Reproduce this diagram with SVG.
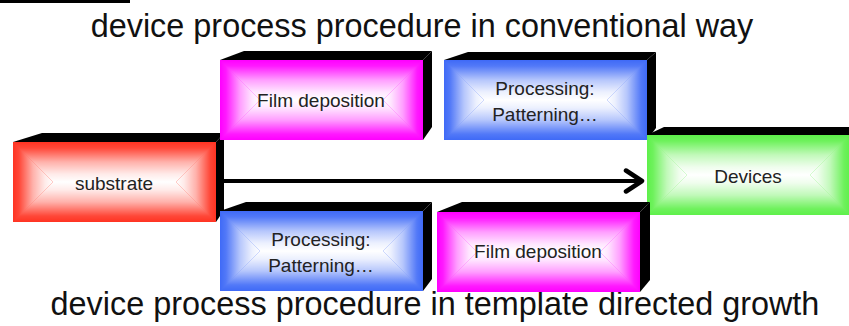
<svg xmlns="http://www.w3.org/2000/svg" width="849" height="326" viewBox="0 0 849 326">
<style>
.title{font-family:"Liberation Sans",Arial,sans-serif;font-size:32.4px;fill:#111;text-anchor:middle}
.lbl{font-family:"Liberation Sans",Arial,sans-serif;font-size:19px;fill:#222;text-anchor:middle}
.side{fill:#000}
.red{fill:#ff3322}
.mag{fill:#ff00ff}
.blue{fill:#3f6af7}
.green{fill:#5ef04a}
.gt{fill:url(#gTop)}
.gb{fill:url(#gBot)}
.gl{fill:url(#gLeft)}
.gr{fill:url(#gRight)}
</style>
<defs>
<linearGradient id="gTop" x1="0" y1="0" x2="0" y2="1"><stop offset="0" stop-color="#fff" stop-opacity="0"/><stop offset="0.15" stop-color="#fff" stop-opacity="0.1"/><stop offset="0.5" stop-color="#fff" stop-opacity="0.62"/><stop offset="0.8" stop-color="#fff" stop-opacity="0.9"/><stop offset="1" stop-color="#fff" stop-opacity="1"/></linearGradient>
<linearGradient id="gBot" x1="0" y1="1" x2="0" y2="0" href="#gTop"/>
<linearGradient id="gLeft" x1="0" y1="0" x2="1" y2="0" href="#gTop"/>
<linearGradient id="gRight" x1="1" y1="0" x2="0" y2="0" href="#gTop"/>
<marker id="chev" viewBox="0 0 22 26" refX="19" refY="13" markerWidth="22" markerHeight="26" markerUnits="userSpaceOnUse" orient="auto">
<path d="M3,2.5 L19,13 L3,23.5" fill="none" stroke="#000" stroke-width="4.5" stroke-linecap="round" stroke-linejoin="round"/>
</marker>
</defs>
<rect width="849" height="326" fill="#fff"/>
<rect x="0" y="0" width="130" height="3" fill="#000"/>
<text class="title" x="422" y="37">device process procedure in conventional way</text>
<text class="title" x="435" y="315">device process procedure in template directed growth</text>

<g id="substrate">
<polygon class="side" points="13,142 42,133 224,133 216,142"/>
<polygon class="side" points="216,142 224,133 224,210 216,222"/>
<rect class="red" x="13" y="142" width="203" height="80"/>
<polygon class="gt" points="13,142 216,142 176,182 53,182"/>
<polygon class="gb" points="13,222 216,222 176,182 53,182"/>
<polygon class="gl" points="13,142 53,182 13,222"/>
<polygon class="gr" points="216,142 176,182 216,222"/>
<text class="lbl" x="114" y="190">substrate</text>
</g>

<g id="connectors">
<line x1="224" y1="181" x2="642" y2="181" stroke="#000" stroke-width="4" marker-end="url(#chev)"/>
</g>

<g id="film-deposition-top">
<polygon class="side" points="220,60 244,51 432,51 423,60"/>
<polygon class="side" points="423,60 432,51 432,127 423,140"/>
<rect class="mag" x="220" y="60" width="203" height="80"/>
<polygon class="gt" points="220,60 423,60 383,100 260,100"/>
<polygon class="gb" points="220,140 423,140 383,100 260,100"/>
<polygon class="gl" points="220,60 260,100 220,140"/>
<polygon class="gr" points="423,60 383,100 423,140"/>
<text class="lbl" x="321" y="107">Film deposition</text>
</g>

<g id="processing-top">
<polygon class="side" points="444,60 468,52 656,52 647,60"/>
<polygon class="side" points="647,60 656,52 656,128 647,140"/>
<rect class="blue" x="444" y="60" width="203" height="80"/>
<polygon class="gt" points="444,60 647,60 607,100 484,100"/>
<polygon class="gb" points="444,140 647,140 607,100 484,100"/>
<polygon class="gl" points="444,60 484,100 444,140"/>
<polygon class="gr" points="647,60 607,100 647,140"/>
<text class="lbl" x="545" y="95">Processing:</text>
<text class="lbl" x="545" y="121">Patterning…</text>
</g>

<g id="devices">
<polygon class="side" points="647,135 664,127 850,127 850,135"/>
<rect class="green" x="647" y="135" width="203" height="80"/>
<polygon class="gt" points="647,135 850,135 810,175 687,175"/>
<polygon class="gb" points="647,215 850,215 810,175 687,175"/>
<polygon class="gl" points="647,135 687,175 647,215"/>
<polygon class="gr" points="850,135 810,175 850,215"/>
<text class="lbl" x="748" y="183">Devices</text>
</g>

<g id="processing-bottom">
<polygon class="side" points="220,211 246,202 432,202 423,211"/>
<polygon class="side" points="423,211 432,202 432,279 423,291"/>
<rect class="blue" x="220" y="211" width="203" height="80"/>
<polygon class="gt" points="220,211 423,211 383,251 260,251"/>
<polygon class="gb" points="220,291 423,291 383,251 260,251"/>
<polygon class="gl" points="220,211 260,251 220,291"/>
<polygon class="gr" points="423,211 383,251 423,291"/>
<text class="lbl" x="321" y="246">Processing:</text>
<text class="lbl" x="321" y="272">Patterning…</text>
</g>

<g id="film-deposition-bottom">
<polygon class="side" points="437,212 462,202 650,202 640,212"/>
<polygon class="side" points="640,212 650,202 650,280 640,292"/>
<rect class="mag" x="437" y="212" width="203" height="80"/>
<polygon class="gt" points="437,212 640,212 600,252 477,252"/>
<polygon class="gb" points="437,292 640,292 600,252 477,252"/>
<polygon class="gl" points="437,212 477,252 437,292"/>
<polygon class="gr" points="640,212 600,252 640,292"/>
<text class="lbl" x="538" y="258">Film deposition</text>
</g>
</svg>
